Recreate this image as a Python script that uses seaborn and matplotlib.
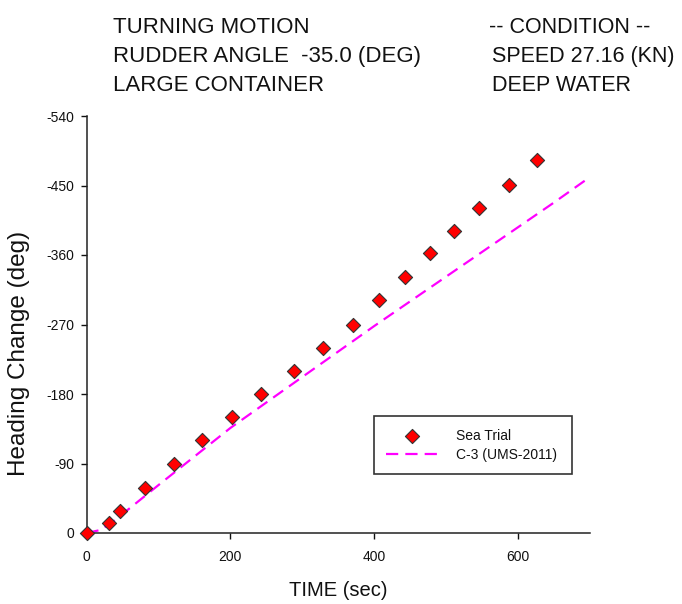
import matplotlib
matplotlib.use("Agg")
import matplotlib.pyplot as plt
import seaborn as sns
import pandas as pd

# ---- data ----
trial_time = [0, 31, 47, 82, 121, 160, 202, 243, 288, 329, 370, 407, 443, 478, 511, 546, 588, 626]
trial_heading = [0, -13, -29, -58, -90, -120, -150, -180, -210, -240, -270, -302, -331, -362, -391, -421, -451, -483]

sim_time = [0, 20, 40, 60, 80, 100, 150, 200, 250, 300, 350, 400, 450, 500, 550, 600, 650, 700]
sim_heading = [0, -4, -17, -32, -47, -62, -99, -136, -169, -202, -235, -268, -300, -332, -364, -396, -428, -461]

x_ticks = [0, 200, 400, 600]
y_ticks = [0, -90, -180, -270, -360, -450, -540]

title_left = ["TURNING MOTION", "RUDDER ANGLE  -35.0 (DEG)", "LARGE CONTAINER"]
title_right = ["-- CONDITION --", "SPEED 27.16 (KN)", "DEEP WATER"]

sns.set_style("ticks")
plt.rcParams["font.family"] = ["Liberation Sans", "DejaVu Sans"]
plt.rcParams["axes.unicode_minus"] = False
plt.rcParams["text.color"] = "#111111"
plt.rcParams["axes.labelcolor"] = "#111111"

W, H = 682, 604
fig = plt.figure(figsize=(W / 100, H / 100), dpi=100)
ax = fig.add_axes([86.5 / W, 1 - 533 / H, (590 - 86.5) / W, (533 - 116) / H])

trial = pd.DataFrame({"t": trial_time, "h": trial_heading})
sim = pd.DataFrame({"t": sim_time, "h": sim_heading})

sns.lineplot(data=sim, x="t", y="h", ax=ax, color="#FF00FF", lw=1.6,
             dashes=False, linestyle=(0, (5.5, 3.2)), label="C-3 (UMS-2011)", zorder=2)
sns.scatterplot(data=trial, x="t", y="h", ax=ax, marker="D", s=52, color="#FF0000",
                edgecolor="#333333", linewidth=0.8, label="Sea Trial", zorder=3, clip_on=False)

ax.set_xlim(0, 700)
ax.set_ylim(0, -540)
ax.set_xticks(x_ticks)
ax.set_yticks(y_ticks)
ax.set_xticklabels([str(v) for v in x_ticks])
ax.set_yticklabels([str(v) for v in y_ticks])
ax.tick_params(axis="both", direction="out", length=4, width=1.0, colors="#111111",
               labelsize=10)
ax.tick_params(axis="x", pad=8)
ax.tick_params(axis="y", pad=5)
for sp in ["top", "right"]:
    ax.spines[sp].set_visible(False)
for sp in ["left", "bottom"]:
    ax.spines[sp].set_linewidth(1.1)
    ax.spines[sp].set_color("#222222")

ax.set_xlabel("TIME (sec)", fontsize=14.5, va="center", ha="center")
ax.xaxis.set_label_coords(0.5, (533 - 590) / 417)
ax.set_ylabel("Heading Change (deg)", fontsize=17.5, va="center", ha="center")
ax.yaxis.set_label_coords((19 - 86.5) / 503.5, (533 - 353) / 417)

handles, labels = ax.get_legend_handles_labels()
order = [labels.index("Sea Trial"), labels.index("C-3 (UMS-2011)")]
leg = ax.legend([handles[i] for i in order], [labels[i] for i in order],
                loc="lower left", mode="expand",
                bbox_to_anchor=(374 / W, 1 - 474 / H, 198 / W, 62 / H),
                bbox_transform=fig.transFigure, fancybox=False, frameon=True,
                edgecolor="black", fontsize=10, handlelength=3.7, handletextpad=1.3,
                borderpad=0.9, labelspacing=0.35, borderaxespad=0)
leg.get_frame().set_linewidth(1.2)

right_x = [489, 492, 492]
for i, (a, b) in enumerate(zip(title_left, title_right)):
    yb = [33.3, 61.7, 90.7][i]
    fig.text(113 / W, 1 - yb / H, a, fontsize=16, va="baseline", ha="left")
    fig.text(right_x[i] / W, 1 - yb / H, b, fontsize=15.5, va="baseline", ha="left")

fig.savefig("out.png", dpi=100)
